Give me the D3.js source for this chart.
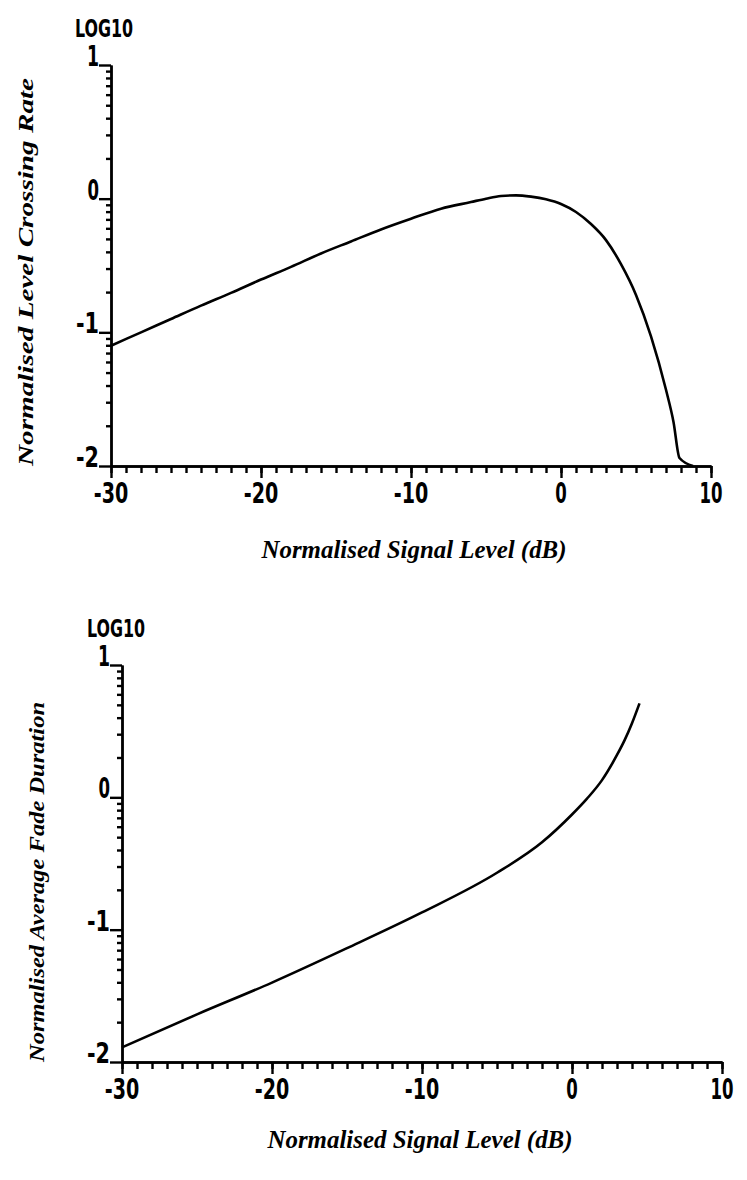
<!DOCTYPE html>
<html>
<head>
<meta charset="utf-8">
<script src="https://cdn.jsdelivr.net/npm/d3@7"></script>
<style>
  body { margin: 0; background: #fff; }
  .tick-label { font-family: "DejaVu Sans Condensed", "DejaVu Sans", sans-serif; font-stretch: condensed; font-weight: bold; }
  .title { font-family: "Liberation Serif", "DejaVu Serif", serif; font-style: italic; font-weight: bold; }
</style>
</head>
<body>
<div id="chart"></div>
<script>
// level crossing rate, log10 values
const lcrLevel = [-30, -28, -26, -24, -22, -20, -18, -16, -14, -12, -10, -8, -6, -5, -4, -3, -2, -1, 0, 1, 2, 3, 4, 5, 6, 7, 7.5, 7.9, 8.8];
const lcrLog10 = [-1.10, -1.00, -0.90, -0.80, -0.705, -0.605, -0.51, -0.41, -0.32, -0.23, -0.15, -0.075, -0.025, 0.00, 0.02, 0.025, 0.015, -0.005, -0.04, -0.10, -0.19, -0.31, -0.49, -0.72, -1.03, -1.43, -1.67, -1.94, -2.00];

// average fade duration, log10 values
const afdLevel = [-30, -25, -20, -15, -10, -5, -2, 0, 1, 2, 3, 3.5, 4, 4.5];
const afdLog10 = [-1.89, -1.64, -1.40, -1.14, -0.87, -0.57, -0.34, -0.13, -0.01, 0.13, 0.32, 0.43, 0.56, 0.71];

const xDomain = [-30, 10];
const xMajor = [-30, -20, -10, 0, 10];
const yDecades = [1e-2, 1e-1, 1, 10];
const yLabels = ['-2', '-1', '0', '1'];

const W = 747, H = 1180;

const svg = d3.select('#chart').append('svg')
    .attr('width', W)
    .attr('height', H);

const panels = [
    { level: lcrLevel, vals: lcrLog10, x0: 111, x1: 711, yTop: 65, yBot: 466,
      ytitle: 'Normalised Level Crossing Rate', ytX: 33, ytY: 272, ytLen: 388,
      logX: 75, logY: 37, xtY: 558, xtX: 414 },
    { level: afdLevel, vals: afdLog10, x0: 122, x1: 722, yTop: 665, yBot: 1062,
      ytitle: 'Normalised Average Fade Duration', ytX: 44, ytY: 882, ytLen: 360,
      logX: 87, logY: 637, xtY: 1148, xtX: 420 }
];

// condensed width of a label, about 11px a character
const labW = s => s === '1' ? 12 : s.length * 11.5;

const draw_panel = function(p){
    const x = d3.scaleLinear().domain(xDomain).range([p.x0, p.x1]);
    const y = d3.scaleLog().domain([1e-2, 10]).range([p.yBot, p.yTop]);
    const g = svg.append('g');

    // x axis: minor every dB, majors every 10
    g.append('g')
        .attr('transform', 'translate(0,' + p.yBot + ')')
        .call(d3.axisBottom(x).tickValues(d3.range(-30, 11)).tickSize(7).tickSizeOuter(0).tickFormat(''));
    g.append('g')
        .attr('transform', 'translate(0,' + p.yBot + ')')
        .call(d3.axisBottom(x).tickValues(xMajor).tickSize(12).tickSizeOuter(0).tickFormat(''));

    // y axis: log minors + decade majors
    const yMinorVals = y.ticks().filter(v => !yDecades.some(d => Math.abs(d - v) < 1e-9));
    g.append('g')
        .attr('transform', 'translate(' + p.x0 + ',0)')
        .call(d3.axisLeft(y).tickValues(yMinorVals).tickSize(5).tickSizeOuter(0).tickFormat(''));
    g.append('g')
        .attr('transform', 'translate(' + p.x0 + ',0)')
        .call(d3.axisLeft(y).tickValues(yDecades).tickSize(12).tickSizeOuter(0).tickFormat(''));

    g.selectAll('.domain, .tick line')
        .attr('stroke', '#000')
        .attr('stroke-width', 2.4);

    // x tick labels
    g.selectAll('.xlab')
        .data(xMajor)
        .join('text')
        .attr('class', 'tick-label')
        .attr('x', d => x(d))
        .attr('y', p.yBot + 37)
        .attr('text-anchor', 'middle')
        .attr('font-size', 28)
        .attr('textLength', d => labW(d < 0 ? '-' + Math.abs(d) : String(d)))
        .attr('lengthAdjust', 'spacingAndGlyphs')
        .text(d => d < 0 ? '-' + Math.abs(d) : d);

    // y tick labels sit on the tick
    g.selectAll('.ylab')
        .data(yDecades)
        .join('text')
        .attr('class', 'tick-label')
        .attr('x', p.x0 - 12)
        .attr('y', d => y(d) + 1)
        .attr('text-anchor', 'end')
        .attr('font-size', 28)
        .attr('textLength', (d, i) => labW(yLabels[i]))
        .attr('lengthAdjust', 'spacingAndGlyphs')
        .text((d, i) => yLabels[i]);

    g.append('text')
        .attr('class', 'tick-label')
        .attr('x', p.logX)
        .attr('y', p.logY)
        .attr('font-size', 25)
        .attr('font-weight', 'normal')
        .attr('textLength', 58)
        .attr('lengthAdjust', 'spacingAndGlyphs')
        .text('LOG10');

    // titles
    g.append('text')
        .attr('class', 'title')
        .attr('x', p.xtX)
        .attr('y', p.xtY)
        .attr('text-anchor', 'middle')
        .attr('font-size', 25)
        .attr('textLength', 305)
        .attr('lengthAdjust', 'spacingAndGlyphs')
        .text('Normalised Signal Level (dB)');

    g.append('text')
        .attr('class', 'title')
        .attr('transform', 'translate(' + p.ytX + ',' + p.ytY + ') rotate(-90)')
        .attr('text-anchor', 'middle')
        .attr('font-size', 21)
        .attr('textLength', p.ytLen)
        .attr('lengthAdjust', 'spacingAndGlyphs')
        .text(p.ytitle);

    // curve
    const pts = p.level.map((d, i) => [d, Math.pow(10, p.vals[i])]);
    const line = d3.line()
        .x(d => x(d[0]))
        .y(d => y(d[1]))
        .curve(d3.curveMonotoneX);
    g.append('path')
        .datum(pts)
        .attr('fill', 'none')
        .attr('stroke', '#000')
        .attr('stroke-width', 2.6)
        .attr('d', line);
};

panels.forEach(draw_panel);
</script>
</body>
</html>
